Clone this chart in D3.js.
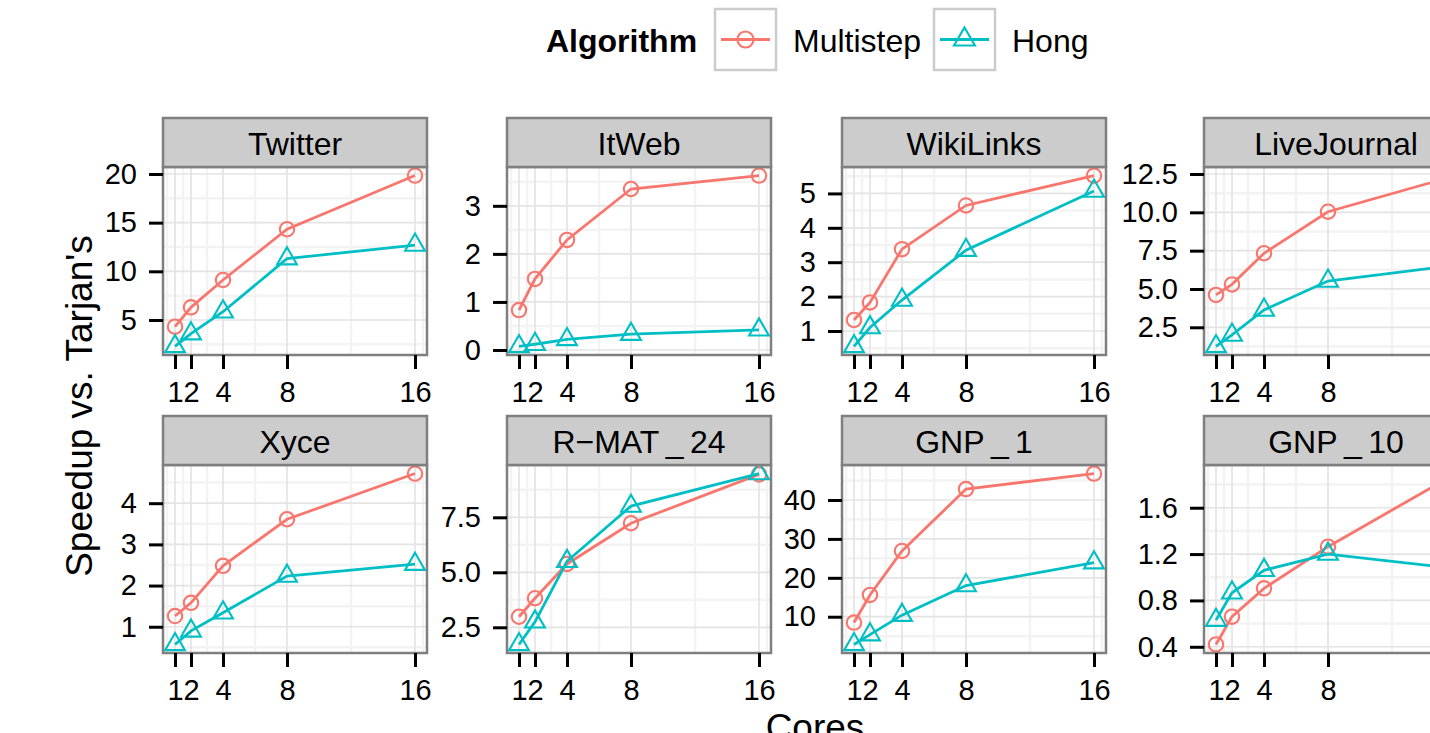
<!DOCTYPE html>
<html>
<head>
<meta charset="utf-8">
<script src="https://cdn.jsdelivr.net/npm/d3@7"></script>
<style>
  body { margin: 0; background: #fff; }
  svg { display: block; }
  text { font-family: "Liberation Sans", Arial, sans-serif; fill: #000; }
</style>
</head>
<body>
<svg id="chart" width="1430" height="733"></svg>
<script>
// data
var cores = [1, 2, 4, 8, 16];
var algorithms = ['Multistep', 'Hong'];
var colors = ['#F8766D', '#00BFC4'];
var graphs = ['Twitter', 'ItWeb', 'WikiLinks', 'LiveJournal',
              'Xyce', 'R\u2212MAT\u2009_\u200924', 'GNP\u2009_\u20091', 'GNP\u2009_\u200910'];

var multistep = [
  [4.31, 6.3, 9.11, 14.32, 19.84],
  [0.83, 1.48, 2.29, 3.35, 3.63],
  [1.32, 1.83, 3.38, 4.65, 5.52],
  [4.61, 5.3, 7.33, 10.04, 12.4],
  [1.26, 1.58, 2.48, 3.61, 4.72],
  [2.98, 3.82, 5.38, 7.23, 9.45],
  [8.5, 15.6, 26.9, 42.8, 46.8],
  [0.42, 0.66, 0.904, 1.264, 1.895]
];
var hong = [
  [2.28, 3.6, 5.85, 11.3, 12.7],
  [0.074, 0.12, 0.22, 0.33, 0.42],
  [0.55, 1.1, 1.9, 3.35, 5.07],
  [1.25, 2.0, 3.63, 5.52, 6.55],
  [0.57, 0.9, 1.34, 2.23, 2.52],
  [1.72, 2.75, 5.5, 8.01, 9.49],
  [2.87, 5.4, 10.4, 18.0, 23.9],
  [0.63, 0.866, 1.06, 1.2, 1.074]
];
var yTicks = [
  [5, 10, 15, 20],
  [0, 1, 2, 3],
  [1, 2, 3, 4, 5],
  [2.5, 5, 7.5, 10, 12.5],
  [1, 2, 3, 4],
  [2.5, 5, 7.5],
  [10, 20, 30, 40],
  [0.4, 0.8, 1.2, 1.6]
];
var yTickLabels = [
  ['5', '10', '15', '20'],
  ['0', '1', '2', '3'],
  ['1', '2', '3', '4', '5'],
  ['2.5', '5.0', '7.5', '10.0', '12.5'],
  ['1', '2', '3', '4'],
  ['2.5', '5.0', '7.5'],
  ['10', '20', '30', '40'],
  ['0.4', '0.8', '1.2', '1.6']
];

// layout
var panelX = [163, 507, 842, 1204];
var rowY = [167, 465];
var panelW = 264, panelH = 188, stripH = 49;

var svg = d3.select('#chart');

function expand(ext) {
  var d = (ext[1] - ext[0]) * 0.05;
  return [ext[0] - d, ext[1] + d];
}

// ggplot style minor breaks
function minorBreaks(b, dom) {
  var bd = b[1] - b[0];
  var bb = b.slice();
  if (dom[0] < bb[0]) bb.unshift(bb[0] - bd);
  if (dom[1] > bb[bb.length - 1]) bb.push(bb[bb.length - 1] + bd);
  var out = [];
  for (var i = 0; i < bb.length - 1; i++) out.push((bb[i] + bb[i + 1]) / 2);
  return out.filter(function(v) { return v > dom[0] && v < dom[1]; });
}

graphs.forEach(function(name, i) {
  var col = i % 4, row = Math.floor(i / 4);
  var g = svg.append('g').attr('transform', 'translate(' + panelX[col] + ',' + rowY[row] + ')');

  var xdom = expand([1, 16]);
  var x = d3.scaleLinear().domain(xdom).range([0, panelW]);
  var ydom = expand(d3.extent(multistep[i].concat(hong[i])));
  var y = d3.scaleLinear().domain(ydom).range([panelH, 0]);

  g.append('rect').attr('width', panelW).attr('height', panelH).attr('fill', '#fff');

  // minor grid
  var grid = g.append('g');
  grid.selectAll('.mx').data(minorBreaks(cores, xdom)).enter().append('line')
    .attr('x1', function(d) { return x(d); }).attr('x2', function(d) { return x(d); })
    .attr('y1', 0).attr('y2', panelH)
    .attr('stroke', '#f3f3f3').attr('stroke-width', 2.5);
  grid.selectAll('.my').data(minorBreaks(yTicks[i], ydom)).enter().append('line')
    .attr('y1', function(d) { return y(d); }).attr('y2', function(d) { return y(d); })
    .attr('x1', 0).attr('x2', panelW)
    .attr('stroke', '#f3f3f3').attr('stroke-width', 2.5);
  // major grid
  grid.selectAll('.gx').data(cores).enter().append('line')
    .attr('x1', function(d) { return x(d); }).attr('x2', function(d) { return x(d); })
    .attr('y1', 0).attr('y2', panelH)
    .attr('stroke', '#e4e4e4').attr('stroke-width', 1.7);
  grid.selectAll('.gy').data(yTicks[i]).enter().append('line')
    .attr('y1', function(d) { return y(d); }).attr('y2', function(d) { return y(d); })
    .attr('x1', 0).attr('x2', panelW)
    .attr('stroke', '#e4e4e4').attr('stroke-width', 1.7);

  // series
  var line = d3.line()
    .x(function(d) { return x(d.c); })
    .y(function(d) { return y(d.v); });
  [multistep[i], hong[i]].forEach(function(vals, s) {
    var pts = vals.map(function(v, k) { return { c: cores[k], v: v }; });
    g.append('path').datum(pts).attr('d', line)
      .attr('fill', 'none').attr('stroke', colors[s]).attr('stroke-width', 2.8);
    if (s === 0) {
      g.selectAll('.pt' + s).data(pts).enter().append('circle')
        .attr('cx', function(d) { return x(d.c); })
        .attr('cy', function(d) { return y(d.v); })
        .attr('r', 7.2)
        .attr('fill', 'none').attr('stroke', colors[s]).attr('stroke-width', 2.1);
    } else {
      g.selectAll('.pt' + s).data(pts).enter().append('path')
        .attr('d', d3.symbol(d3.symbolTriangle, 170))
        .attr('transform', function(d) { return 'translate(' + x(d.c) + ',' + y(d.v) + ')'; })
        .attr('fill', 'none').attr('stroke', colors[s]).attr('stroke-width', 2.1);
    }
  });

  // panel border
  g.append('rect').attr('width', panelW).attr('height', panelH)
    .attr('fill', 'none').attr('stroke', '#7f7f7f').attr('stroke-width', 2.5);

  // strip
  g.append('rect').attr('y', -stripH).attr('width', panelW).attr('height', stripH)
    .attr('fill', '#cccccc').attr('stroke', '#7f7f7f').attr('stroke-width', 2.5);
  g.append('text').attr('x', panelW / 2).attr('y', -stripH + 37)
    .attr('text-anchor', 'middle').style('font-size', '32px').text(name);

  // axes
  var yAxis = d3.axisLeft(y).tickValues(yTicks[i]).tickSize(14).tickPadding(12)
    .tickFormat(function(d, k) { return yTickLabels[i][k]; });
  var ya = g.append('g').call(yAxis);
  var xAxis = d3.axisBottom(x).tickValues(cores).tickSize(14).tickPadding(12);
  var xa = g.append('g').attr('transform', 'translate(0,' + panelH + ')').call(xAxis);
  [ya, xa].forEach(function(a) {
    a.select('.domain').remove();
    a.selectAll('.tick line').attr('stroke', '#000').attr('stroke-width', 3);
    a.selectAll('.tick text').attr('fill', '#000')
      .style('font-family', '"Liberation Sans", Arial, sans-serif').style('font-size', '29px');
  });
});

// axis titles
svg.append('text')
  .attr('transform', 'translate(92,406) rotate(-90)')
  .attr('text-anchor', 'middle').style('font-size', '37px')
  .text("Speedup vs. Tarjan's");
svg.append('text')
  .attr('x', 815).attr('y', 740)
  .attr('text-anchor', 'middle').style('font-size', '37px')
  .text('Cores');

// legend
var legend = svg.append('g');
legend.append('text').attr('x', 546).attr('y', 52)
  .style('font-size', '32px').style('font-weight', 'bold').text('Algorithm');
var keyX = [715, 934];
var labelX = [793, 1012];
algorithms.forEach(function(a, s) {
  var k = legend.append('g').attr('transform', 'translate(' + keyX[s] + ',9)');
  k.append('rect').attr('width', 61).attr('height', 61)
    .attr('fill', '#fff').attr('stroke', '#cccccc').attr('stroke-width', 2.5);
  k.append('line').attr('x1', 6).attr('x2', 55).attr('y1', 30.5).attr('y2', 30.5)
    .attr('stroke', colors[s]).attr('stroke-width', 2.8);
  if (s === 0) {
    k.append('circle').attr('cx', 30.5).attr('cy', 30.5).attr('r', 8)
      .attr('fill', 'none').attr('stroke', colors[s]).attr('stroke-width', 2.1);
  } else {
    k.append('path').attr('d', d3.symbol(d3.symbolTriangle, 190))
      .attr('transform', 'translate(30.5,30.5)')
      .attr('fill', 'none').attr('stroke', colors[s]).attr('stroke-width', 2.1);
  }
  legend.append('text').attr('x', labelX[s]).attr('y', 52)
    .style('font-size', '32px').text(a);
});
</script>
</body>
</html>
